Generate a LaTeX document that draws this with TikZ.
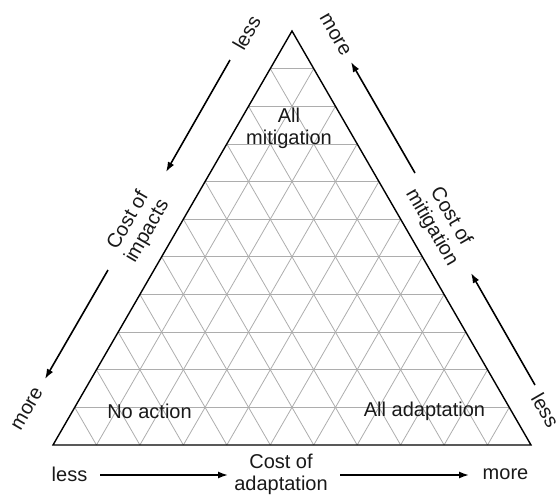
\documentclass[tikz,border=0pt]{standalone}
\usepackage{fontspec}
\setmainfont{Liberation Sans}
\usetikzlibrary{calc,arrows.meta}
\begin{document}
\begin{tikzpicture}[x=1pt,y=-1pt,
  lbl/.style={inner sep=0pt,align=center,font=\fontsize{20}{22}\selectfont,text=black!90},
  arr/.style={line width=1.6pt,-{Latex[length=10pt,width=7pt]}},
  gridln/.style={draw=black!32,line width=0.8pt},
  edge/.style={draw=black,line width=1.4pt,line join=miter}]
\useasboundingbox (0,0) rectangle (560,496);
\coordinate (A) at (53,445);
\coordinate (B) at (531,445);
\coordinate (C) at (292,31);
% grid
\foreach \i in {1,...,10}{
  \pgfmathsetmacro{\t}{\i/11}
  \pgfmathsetmacro{\u}{1-\i/11}
  \draw[gridln] ($(A)!\t!(C)$) -- ($(B)!\t!(C)$);
  \draw[gridln] ($(A)!\t!(B)$) -- ($(B)!\u!(C)$);
  \draw[gridln] ($(A)!\t!(B)$) -- ($(A)!\t!(C)$);
}
\draw[edge] (A) -- (B) -- (C) -- cycle;
% inner labels
\node[lbl] (allmit) at (289,128) {All\\mitigation};
\node[lbl] (noact) at (149.5,411) {No action};
\node[lbl] (alladapt) at (424.5,411) {All adaptation};
% bottom axis
\node[lbl] (bless) at (69.5,474) {less};
\node[lbl] (bcost) at (281,474) {Cost of\\adaptation};
\node[lbl] (bmore) at (505.5,474) {more};
\coordinate (b1s) at (100,475);
\coordinate (b1e) at (228,475);
\coordinate (b2s) at (340,475);
\coordinate (b2e) at (469,475);
\draw[arr] (b1s) -- (b1e);
\draw[arr] (b2s) -- (b2e);
% left axis
\node[lbl,rotate=60] (lless) at (246.5,33) {less};
\node[lbl,rotate=60] (lcost) at (138,226) {Cost of\\impacts};
\node[lbl,rotate=60] (lmore) at (27.5,409) {more};
\coordinate (l1s) at (230,60);
\coordinate (l1e) at (166,172);
\coordinate (l2s) at (108,270);
\coordinate (l2e) at (45,379);
\draw[arr] (l1s) -- (l1e);
\draw[arr] (l2s) -- (l2e);
% right axis
\node[lbl,rotate=-60] (rmore) at (335,35) {more};
\node[lbl,rotate=-60] (rcost) at (441,222) {Cost of\\mitigation};
\node[lbl,rotate=-60] (rless) at (545.5,410) {less};
\coordinate (r1s) at (415,173);
\coordinate (r1e) at (351,62);
\coordinate (r2s) at (535,385);
\coordinate (r2e) at (471,273);
\draw[arr] (r1s) -- (r1e);
\draw[arr] (r2s) -- (r2e);
\end{tikzpicture}
\end{document}
